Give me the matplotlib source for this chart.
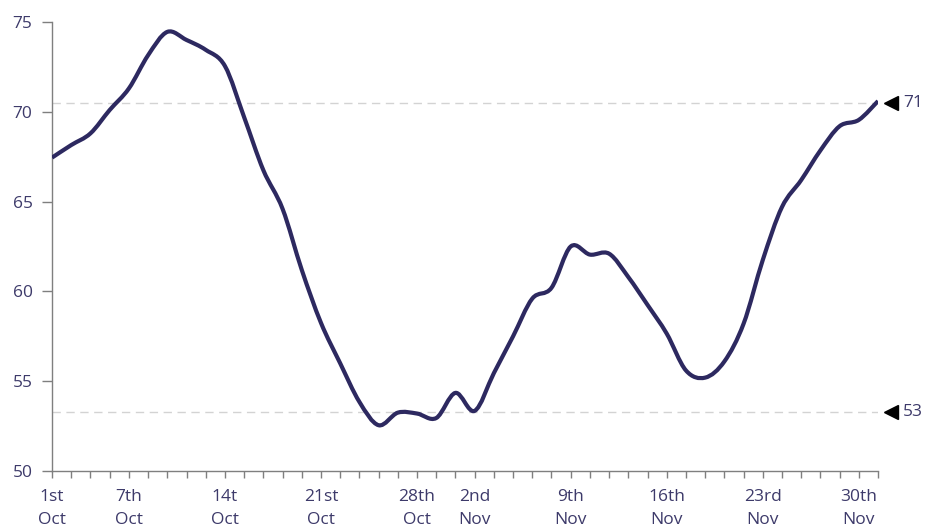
import numpy as np
import matplotlib.pyplot as plt
from matplotlib.path import Path
from matplotlib.patches import PathPatch

# daily values (working days, 1st Oct .. 2nd Dec)
values = [67.45, 68.15, 68.8, 70.1, 71.3, 73.15, 74.45, 74.0, 73.45, 72.55,
          69.7, 66.75, 64.6, 61.2, 58.25, 56.0, 53.85, 52.55, 53.25, 53.2,
          52.95, 54.35, 53.35, 55.45, 57.5, 59.6, 60.2, 62.5, 62.05, 62.1,
          60.8, 59.25, 57.65, 55.6, 55.2, 56.1, 58.2, 61.75, 64.7, 66.2,
          67.85, 69.2, 69.55, 70.6]
label_pos = [0, 4, 9, 14, 19, 22, 27, 32, 37, 42]
label_txt = ["1st\nOct", "7th\nOct", "14t\nOct", "21st\nOct", "28th\nOct",
             "2nd\nNov", "9th\nNov", "16th\nNov", "23rd\nNov", "30th\nNov"]
ref_levels = [70.5, 53.3]
ref_labels = ["71", "53"]

navy = "#2d2960"
txt_col = "#3d3a6a"
fs = 12.5
plt.rcParams['font.family'] = ['Open Sans', 'DejaVu Sans']

fig = plt.figure(figsize=(9.26, 5.29), dpi=100)
ax = fig.add_axes([0.0562, 0.1096, 0.8920, 0.8488])

x = np.arange(len(values), dtype=float)
y = np.array(values)

# smoothed line (Catmull-Rom as cubic Bezier segments)
pts = np.column_stack([x, y])
ext = np.vstack([pts[0], pts, pts[-1]])
verts = [tuple(pts[0])]
codes = [Path.MOVETO]
for i in range(len(pts) - 1):
    p0, p1, p2, p3 = ext[i], ext[i + 1], ext[i + 2], ext[i + 3]
    c1 = p1 + (p2 - p0) / 6.0
    c2 = p2 - (p3 - p1) / 6.0
    verts += [tuple(c1), tuple(c2), tuple(p2)]
    codes += [Path.CURVE4] * 3
ax.add_patch(PathPatch(Path(verts, codes), facecolor='none', edgecolor=navy,
                       lw=3, capstyle='butt', joinstyle='round', zorder=3))

for lev, lab in zip(ref_levels, ref_labels):
    ax.axhline(lev, color='#d3d3d3', lw=1, dashes=(6, 4), zorder=1)
    ax.plot([43.65], [lev], marker='<', color='black', ms=10, clip_on=False,
            zorder=4)
    ax.text(44.3, lev, lab, color=txt_col, fontsize=fs, va='center',
            ha='left', clip_on=False)

ax.set_xlim(0, 43)
ax.set_ylim(50, 75)
ax.set_yticks(np.arange(50, 76, 5))
labels = [""] * len(values)
for p, t in zip(label_pos, label_txt):
    labels[p] = t
ax.set_xticks(x)
ax.set_xticklabels(labels, fontsize=fs, color=txt_col, linespacing=1.6)
ax.tick_params(axis='y', labelsize=fs, labelcolor=txt_col, color='#7f7f7f',
               length=7, width=1, pad=7)
ax.tick_params(axis='x', color='#7f7f7f', length=5, width=1, pad=8)

for s in ['top', 'right']:
    ax.spines[s].set_visible(False)
for s in ['left', 'bottom']:
    ax.spines[s].set_color('#7f7f7f')
    ax.spines[s].set_linewidth(1)

fig.savefig('out.png', dpi=100)
